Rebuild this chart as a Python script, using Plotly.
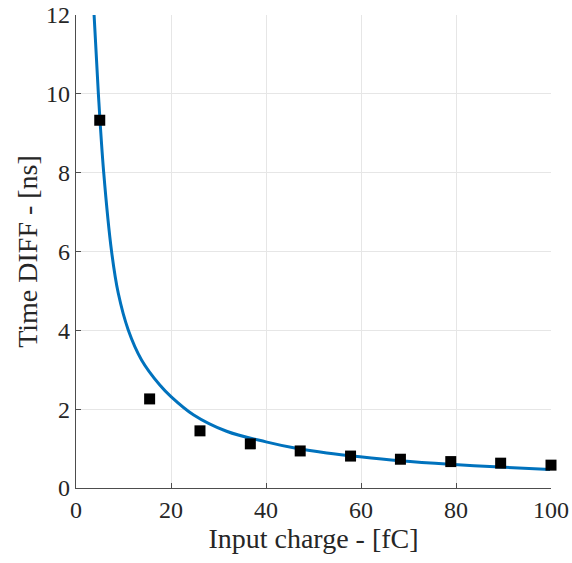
import plotly.graph_objects as go

# Measured data points
charge_fc = [5.0, 15.5, 26.1, 36.7, 47.2, 57.8, 68.3, 78.9, 89.4, 100.0]
time_diff_ns = [9.33, 2.26, 1.45, 1.12, 0.94, 0.81, 0.73, 0.67, 0.63, 0.58]

# Fitted curve
fit_x = [3.79, 4.7, 5.82, 7.5, 8.9, 11.0, 13.8, 17.6, 20.0, 24.7, 31.7,
         40.0, 45.8, 52.8, 59.8, 68.2, 78.7, 89.3, 99.8]
fit_y = [12.04, 10.02, 8.02, 5.99, 4.94, 4.01, 3.25, 2.62, 2.32, 1.86, 1.44,
         1.17, 1.02, 0.89, 0.79, 0.69, 0.60, 0.53, 0.47]

x_ticks = [0, 20, 40, 60, 80, 100]
y_ticks = [0, 2, 4, 6, 8, 10, 12]

font = "Liberation Serif"

fig = go.Figure()
fig.add_trace(go.Scatter(
    x=fit_x, y=fit_y, mode="lines",
    line=dict(color="#0072BD", width=3, shape="spline", smoothing=1.0),
    showlegend=False, hoverinfo="skip",
))
fig.add_trace(go.Scatter(
    x=charge_fc, y=time_diff_ns, mode="markers",
    marker=dict(symbol="square", size=11, color="black"),
    showlegend=False, cliponaxis=False,
))

axis_common = dict(
    showgrid=True, gridcolor="#e6e6e6", gridwidth=1,
    showline=True, linecolor="#4d4d4d", linewidth=1.2,
    ticks="inside", ticklen=5, tickcolor="#4d4d4d",
    tickfont=dict(family=font, size=24, color="#262626"),
    zeroline=False, mirror=False, automargin=False,
)

fig.update_layout(
    width=572, height=563,
    margin=dict(l=76, r=21, t=15, b=75),
    paper_bgcolor="white", plot_bgcolor="white",
    font=dict(family=font, color="#262626"),
    xaxis=dict(range=[0, 100], tickvals=x_ticks,
               title=dict(text="Input charge - [fC]", font=dict(family=font, size=28, color="#262626"), standoff=6),
               **axis_common),
    yaxis=dict(range=[0, 12], tickvals=y_ticks,
               title=dict(text="Time DIFF - [ns]", font=dict(family=font, size=28, color="#262626"), standoff=0),
               **axis_common),
)

fig.write_html("out.html")
